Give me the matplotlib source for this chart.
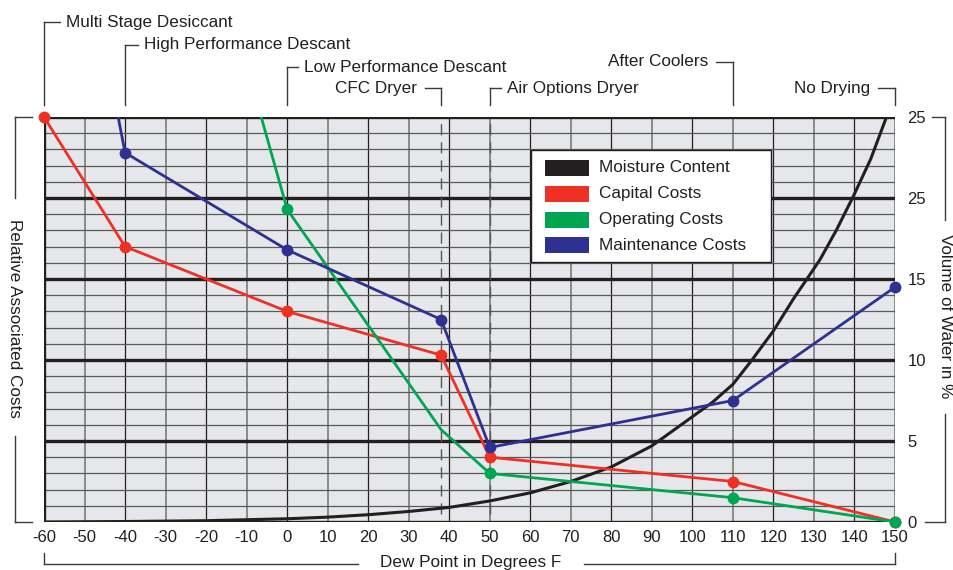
import matplotlib
matplotlib.use("Agg")
import matplotlib.pyplot as plt
from matplotlib.patches import Rectangle
from matplotlib.lines import Line2D

plt.rcParams['font.family'] = ['Liberation Sans', 'DejaVu Sans']

# ---------------- data ----------------
x_ticks = [-60, -50, -40, -30, -20, -10, 0, 10, 20, 30, 40, 50, 60, 70, 80, 90, 100, 110, 120, 130, 140, 150]
y_ticks = [0, 5, 10, 15, 20, 25]
y_tick_labels = ['0', '5', '10', '15', '25', '25']

moist_x = [-60, -40, -20, 0, 10, 20, 30, 40, 50, 60, 70, 80, 90, 100, 105, 110, 114.7, 120, 125, 128, 131.5, 135.5, 139.7, 144, 147.9]
moist_y = [0, 0.03, 0.08, 0.2, 0.3, 0.45, 0.65, 0.9, 1.3, 1.8, 2.5, 3.4, 4.7, 6.5, 7.4, 8.5, 10, 11.8, 13.8, 14.9, 16.2, 18, 20.1, 22.4, 25]

capital_x = [-60, -40, 0, 38, 50, 110, 150]
capital_y = [25, 17, 13, 10.3, 4, 2.5, 0]
capital_mark = [True, True, True, True, True, True, True]

operating_x = [-6.4, 0, 38, 50, 110, 150]
operating_y = [25, 19.3, 5.7, 3, 1.5, 0]
operating_mark = [False, True, False, True, True, True]

maint_x = [-41.7, -40, 0, 38, 50, 110, 150]
maint_y = [25, 22.8, 16.8, 12.5, 4.6, 7.5, 14.5]
maint_mark = [False, True, True, True, True, True, True]

series_names = ['Moisture Content', 'Capital Costs', 'Operating Costs', 'Maintenance Costs']
colors = ['#231f20', '#ee3124', '#00a651', '#2e3192']

dryers = ['Multi Stage Desiccant', 'High Performance Descant', 'Low Performance Descant',
          'CFC Dryer', 'Air Options Dryer', 'After Coolers', 'No Drying']
dryer_x = [-60, -40, 0, 38, 50, 110, 150]

# ---------------- figure ----------------
W, H = 954, 570
fig = plt.figure(figsize=(W / 100, H / 100), dpi=100)
L, R, T, B = 44, 895, 117, 522
ax = fig.add_axes([L / W, 1 - B / H, (R - L) / W, (B - T) / H])
ax.set_xlim(-60, 150)
ax.set_ylim(0, 25)
ax.set_facecolor('#e6e7ea')
for s in ax.spines.values():
    s.set_visible(False)

# grid
for v in x_ticks:
    if v % 20 == 0:
        ax.axvline(v, color='#231f20', lw=0.9, zorder=1)
    else:
        ax.axvline(v, color='#8a8a8a', lw=1.4, zorder=1)
for h in range(0, 26):
    if h % 5 == 0:
        ax.axhline(h, color='#231f20', lw=2.4, zorder=2)
    else:
        ax.axhline(h, color='#5a5a5a', lw=0.9, zorder=1)
ax.axvline(-60, color='#231f20', lw=2.4, zorder=2)

# dashed dryer lines
for v in [38, 50]:
    ax.plot([v, v], [0.5, 25], color='#555555', lw=1.0, ls=(0, (8, 5)), zorder=3)

# series
ax.plot(moist_x, moist_y, color=colors[0], lw=2.2, zorder=5, solid_joinstyle='round')
for xs, ys, mk, c in [(capital_x, capital_y, capital_mark, colors[1]),
                      (operating_x, operating_y, operating_mark, colors[2]),
                      (maint_x, maint_y, maint_mark, colors[3])]:
    ax.plot(xs, ys, color=c, lw=2.0, zorder=5)
    mx = [a for a, m in zip(xs, mk) if m]
    my = [b for b, m in zip(ys, mk) if m]
    ax.plot(mx, my, 'o', color=c, ms=7.5, zorder=6, clip_on=False)

# ticks
ax.set_xticks(x_ticks)
ax.set_xticklabels([str(v) for v in x_ticks], fontsize=12, color='#231f20')
ax.tick_params(axis='x', length=0, pad=6)
ax.yaxis.tick_right()
ax.set_yticks(y_ticks)
ax.set_yticklabels(y_tick_labels, fontsize=12, color='#231f20')
ax.tick_params(axis='y', length=0, pad=9)

# ---------------- annotations (figure pixel coords) ----------------
def fx(p):
    return p / W

def fy(p):
    return 1 - p / H

def seg(x0, y0, x1, y1, lw=1.0, color='#3a3a3a'):
    fig.add_artist(Line2D([fx(x0), fx(x1)], [fy(y0), fy(y1)], transform=fig.transFigure,
                          color=color, lw=lw))

def px_of(v):
    return L + (v - (-60)) / 210 * (R - L)

def txt(x, y, s, ha='left', rot=0):
    fig.text(fx(x), fy(y), s, ha=ha, va='center', fontsize=12.3, color='#231f20', rotation=rot)

# dryer brackets
br = [(0, 22, 'r', 16), (1, 45, 'r', 13), (2, 67, 'r', 11), (3, 88, 'l', 16),
      (4, 88, 'r', 11), (5, 62, 'l', 17), (6, 88, 'l', 17)]
for i, yy, d, alen in br:
    xp = px_of(dryer_x[i])
    seg(xp, yy, xp, 105)
    if d == 'r':
        seg(xp, yy, xp + alen, yy)
        txt(xp + alen + 6, yy, dryers[i], ha='left')
    else:
        seg(xp - alen, yy, xp, yy)
        txt(xp - alen - 8, yy, dryers[i], ha='right')

# left axis bracket
seg(15, 117, 32, 117)
seg(15, 117, 15, 198)
seg(15, 436, 15, 522)
seg(15, 522, 32, 522)
txt(14, 318, 'Relative Associated Costs', ha='center', rot=270)

# right axis bracket
seg(932, 117, 945, 117)
seg(945, 117, 945, 220)
seg(945, 414, 945, 522)
seg(925, 522, 945, 522)
txt(946, 316, 'Volume of Water in %', ha='center', rot=270)

# bottom bracket
seg(44, 553, 44, 564)
seg(44, 564, 358, 564)
seg(584, 564, 895, 564)
seg(895, 553, 895, 564)
txt(471, 563, 'Dew Point in Degrees F', ha='center')

# legend (manual)
fig.add_artist(Rectangle((fx(531), fy(262)), fx(771) - fx(531), fy(150) - fy(262),
                         transform=fig.transFigure, facecolor='white', edgecolor='#231f20',
                         lw=1.0, zorder=10))
for k, (name, c) in enumerate(zip(series_names, colors)):
    yc = 168 + k * 25.8
    fig.add_artist(Rectangle((fx(545), fy(yc + 8)), fx(589) - fx(545), fy(yc - 8) - fy(yc + 8),
                             transform=fig.transFigure, facecolor=c, edgecolor='none', zorder=11))
    t = fig.text(fx(599), fy(yc), name, ha='left', va='center', fontsize=12.3, color='#231f20')
    t.set_zorder(12)

fig.savefig('out.png', dpi=100)
